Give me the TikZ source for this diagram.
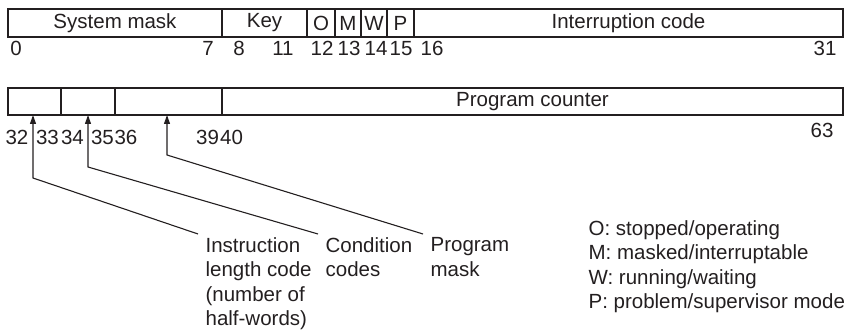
\documentclass[tikz,border=0pt]{standalone}
\usepackage{fontspec}
\setmainfont{Liberation Sans}
\usetikzlibrary{arrows.meta}
\definecolor{ink}{RGB}{35,31,32}
\begin{document}
\begin{tikzpicture}[x=1pt,y=-1pt,line width=1.2pt,font=\fontsize{20.5}{24.5}\selectfont,color=ink,
  bitno/.style={anchor=base,inner sep=0pt},
  note/.style={anchor=north west,align=left,inner sep=0pt},
  pointer/.style={-{Triangle[length=9pt,width=6pt]},line width=1.1pt}]
\useasboundingbox (0,0) rectangle (853,331);
% first word
\draw (8,9) rectangle (843,37);
\foreach \x in {222,307,335,361,387,414} \draw (\x,9)--(\x,37);
\node (sysmask) at (115,23) {System mask};\node (key) at (264.5,23) {Key};
\node (o) at (321,23) {O};\node (m) at (348,23) {M};\node (w) at (374,23) {W};\node (p) at (400.5,23) {P};
\node (intcode) at (628.5,23) {Interruption code};
\foreach \n/\x in {0/16,7/208,8/239,11/283,12/322,13/349,14/376,15/401,16/432,31/825}
  \node[bitno] (b\n) at (\x,56) {\n};
% second word
\draw (8,88) rectangle (843,115);
\foreach \x in {61,115,222} \draw (\x,88)--(\x,115);
\node (pc) at (532.5,101.5) {Program counter};
\foreach \n/\x in {32/17,33/47.5,34/72.5,35/102.5,36/126,39/207.5,40/231.5}
  \node[bitno] (b\n) at (\x,145) {\n};
\node[bitno] (b63) at (822,138) {63};
% pointers
\coordinate (ilcfoot) at (33,115);\coordinate (ccfoot) at (88,115);\coordinate (pmfoot) at (167,115);
\coordinate (ilcend) at (198,234);\coordinate (ccend) at (318,234);\coordinate (pmend) at (423,234);
\draw[pointer] (ilcend)--(33,178)--(ilcfoot);
\draw[pointer] (ccend)--(88,167)--(ccfoot);
\draw[pointer] (pmend)--(167,155)--(pmfoot);
\node[note] (ilc) at (205,237) {Instruction\\length code\\(number of\\half-words)};
\node[note] (cc) at (325,237) {Condition\\codes};
\node[note] (pm) at (430,237) {Program\\mask};
% key to the flags
\node[note] (flags) at (588,220) {O: stopped/operating\\M: masked/interruptable\\W: running/waiting\\P: problem/supervisor mode};
\end{tikzpicture}
\end{document}
